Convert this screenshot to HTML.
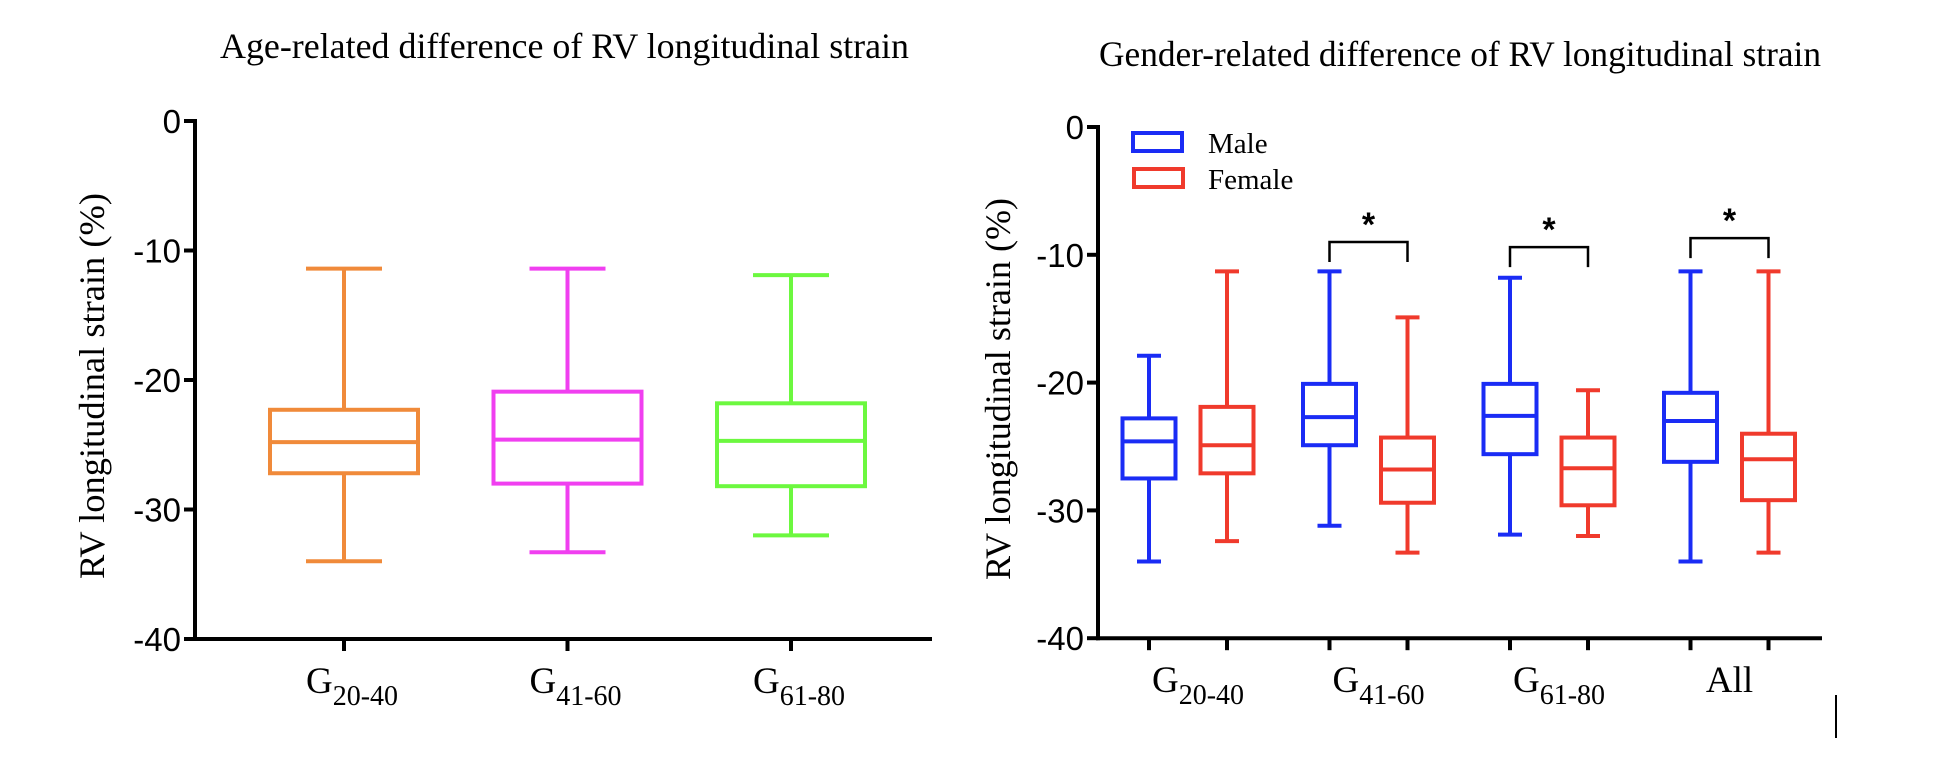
<!DOCTYPE html>
<html><head><meta charset="utf-8"><style>
html,body{margin:0;padding:0;background:#fff;}
svg{display:block;}
</style></head><body>
<svg id="chart" width="1934" height="766" viewBox="0 0 1934 766" xmlns="http://www.w3.org/2000/svg">
<text x="220" y="58" textLength="689" lengthAdjust="spacingAndGlyphs" font-family="Liberation Serif, serif" font-size="36">Age-related difference of RV longitudinal strain</text>
<text x="1099" y="66" textLength="722" lengthAdjust="spacingAndGlyphs" font-family="Liberation Serif, serif" font-size="36">Gender-related difference of RV longitudinal strain</text>
<text transform="translate(104,386) rotate(-90)" text-anchor="middle" textLength="386" lengthAdjust="spacingAndGlyphs" font-family="Liberation Serif, serif" font-size="36">RV longitudinal strain (%)</text>
<text transform="translate(1010,389) rotate(-90)" text-anchor="middle" textLength="382" lengthAdjust="spacingAndGlyphs" font-family="Liberation Serif, serif" font-size="36">RV longitudinal strain (%)</text>
<g id="left"></g>
<g id="right"></g>
<g>
<rect x="1133" y="133" width="49" height="18" fill="none" stroke="#1a2cf5" stroke-width="4"/>
<text x="1208" y="153" font-family="Liberation Serif, serif" font-size="29">Male</text>
<rect x="1134" y="169" width="49" height="18" fill="none" stroke="#f03a2c" stroke-width="4"/>
<text x="1208" y="189" font-family="Liberation Serif, serif" font-size="29">Female</text>
</g>
<line x1="1836" y1="695" x2="1836" y2="738" stroke="#000" stroke-width="2"/>
</svg>
<script>
// Left chart data
const leftCats = ["20-40","41-60","61-80"];
const leftMax = [-11.4,-11.4,-11.9];
const leftQ3 = [-22.3,-20.9,-21.8];
const leftMed = [-24.8,-24.6,-24.7];
const leftQ1 = [-27.2,-28.0,-28.2];
const leftMin = [-34.0,-33.3,-32.0];
const leftColors = ["#f08a3a","#f03ff0","#6cf83f"];
// Right chart data
const rightCats = ["20-40","41-60","61-80","All"];
const maleMax = [-17.9,-11.3,-11.8,-11.3];
const maleQ3 = [-22.8,-20.1,-20.1,-20.8];
const maleMed = [-24.6,-22.7,-22.6,-23.0];
const maleQ1 = [-27.5,-24.9,-25.6,-26.2];
const maleMin = [-34.0,-31.2,-31.9,-34.0];
const femMax = [-11.3,-14.9,-20.6,-11.3];
const femQ3 = [-21.9,-24.3,-24.3,-24.0];
const femMed = [-24.9,-26.8,-26.7,-26.0];
const femQ1 = [-27.1,-29.4,-29.6,-29.2];
const femMin = [-32.4,-33.3,-32.0,-33.3];
const sigGroups = [1,2,3];
const sigLevel = [-9.0,-9.4,-8.7];
const yTicks = [0,-10,-20,-30,-40];

const NS="http://www.w3.org/2000/svg";
function mk(parent,tag,attrs){const e=document.createElementNS(NS,tag);for(const k in attrs)e.setAttribute(k,attrs[k]);parent.appendChild(e);return e;}

function drawAxes(g,ax,y,xEnd,ticksX,prefix){
  mk(g,'line',{x1:ax,y1:y(0)-2,x2:ax,y2:y(-40)+2,stroke:'#000','stroke-width':4});
  mk(g,'line',{x1:ax-2,y1:y(-40),x2:xEnd,y2:y(-40),stroke:'#000','stroke-width':4});
  yTicks.forEach(t=>{
    const l=mk(g,'line',{x1:ax-11,y1:y(t),x2:ax,y2:y(t),stroke:'#000','stroke-width':4});
    
    
    const tx=mk(g,'text',{x:ax-14,y:y(t)+12,'text-anchor':'end','font-family':'Liberation Sans, sans-serif','font-size':33});
    tx.textContent=String(t);
    
    
  });
  ticksX.forEach(x=>{
    const l=mk(g,'line',{x1:x,y1:y(-40),x2:x,y2:y(-40)+12,stroke:'#000','stroke-width':4});
    
    
  });
}
function box(g,cx,w,cap,y,mx,q3,md,q1,mn,col,sw,name){
  const b=mk(g,'g',{});
  
  
  const a={stroke:col,'stroke-width':sw,fill:'none'};
  mk(b,'line',Object.assign({x1:cx,y1:y(mx),x2:cx,y2:y(q3)},a));
  mk(b,'line',Object.assign({x1:cx,y1:y(q1),x2:cx,y2:y(mn)},a));
  mk(b,'line',Object.assign({x1:cx-cap/2,y1:y(mx),x2:cx+cap/2,y2:y(mx)},a));
  mk(b,'line',Object.assign({x1:cx-cap/2,y1:y(mn),x2:cx+cap/2,y2:y(mn)},a));
  mk(b,'rect',Object.assign({x:cx-w/2,y:y(q3),width:w,height:y(q1)-y(q3)},a));
  mk(b,'line',Object.assign({x1:cx-w/2,y1:y(md),x2:cx+w/2,y2:y(md)},a));
}
function xlabel(g,cx,yb,cat,name){
  const t=mk(g,'text',{x:cx,y:yb,'text-anchor':'middle','font-family':'Liberation Serif, serif','font-size':37});
  
  
  if(cat==="All"){t.textContent="All";return;}
  const s1=mk(t,'tspan',{});s1.textContent="G";
  const s2=mk(t,'tspan',{dy:12,'font-size':28});s2.textContent=cat;
}

// Left
(function(){
  const g=document.getElementById('left');
  const y=v=>121+(-v)*12.95;
  const xs=leftCats.map((c,i)=>344+i*223.5);
  drawAxes(g,195,y,932,xs,'left');
  leftCats.forEach((c,i)=>{
    box(g,xs[i],148,76,y,leftMax[i],leftQ3[i],leftMed[i],leftQ1[i],leftMin[i],leftColors[i],4,'box-'+c);
    xlabel(g,xs[i]+8,y(-40)+54,c,'x-label-'+c);
  });
})();

// Right
(function(){
  const g=document.getElementById('right');
  const y=v=>127+(-v)*12.78;
  const centers=rightCats.map((c,i)=>1188+i*180.5);
  const mx=centers.map(c=>c-39), fx=centers.map(c=>c+39);
  const ticks=[];centers.forEach((c,i)=>{ticks.push(mx[i],fx[i]);});
  drawAxes(g,1098,y,1822,ticks,'right');
  rightCats.forEach((c,i)=>{
    box(g,mx[i],53,24,y,maleMax[i],maleQ3[i],maleMed[i],maleQ1[i],maleMin[i],'#1a2cf5',4,'male-box-'+c);
    box(g,fx[i],53,24,y,femMax[i],femQ3[i],femMed[i],femQ1[i],femMin[i],'#f03a2c',4,'female-box-'+c);
    xlabel(g,c==="All"?centers[i]:centers[i]+10,y(-40)+54,c,'x-label-'+c);
  });
  sigGroups.forEach((gi,k)=>{
    const top=y(sigLevel[k]), bot=top+20;
    const p=mk(g,'path',{d:`M${mx[gi]},${bot} V${top} H${fx[gi]} V${bot}`,fill:'none',stroke:'#000','stroke-width':2.5});
    
    
    const t=mk(g,'text',{x:centers[gi],y:top-6,'text-anchor':'middle','font-family':'Liberation Sans, sans-serif','font-size':34,'font-weight':'bold'});
    t.textContent='*';
    
    
  });
})();
</script>
</body></html>
